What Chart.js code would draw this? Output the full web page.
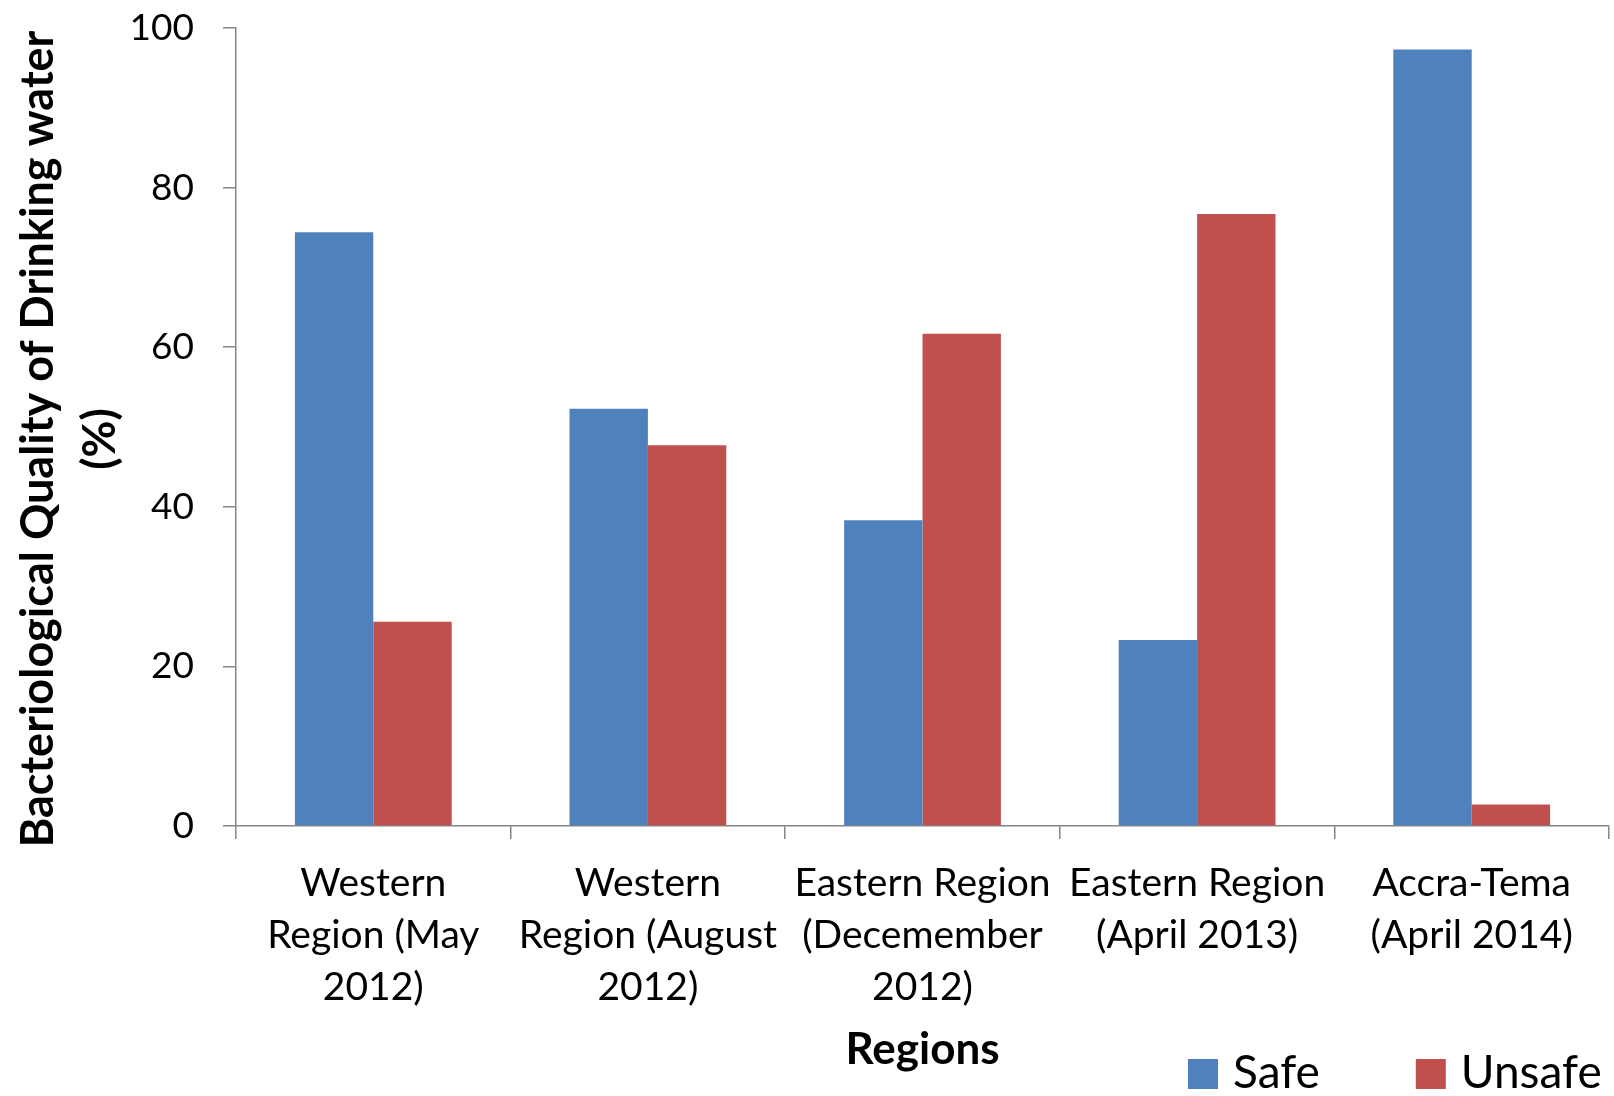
<!DOCTYPE html>
<html><head><meta charset="utf-8">
<script src="https://cdn.jsdelivr.net/npm/chart.js@4"></script>
<style>html,body{margin:0;padding:0;background:#fff}canvas{display:block}</style>
</head><body>
<canvas id="c" width="1614" height="1096"></canvas>
<script>
const categories = [
  ["Western", "Region (May", "2012)"],
  ["Western", "Region (August", "2012)"],
  ["Eastern Region", "(Decemember", "2012)"],
  ["Eastern Region", "(April 2013)"],
  ["Accra-Tema", "(April 2014)"]
];
const safeValues = [74.4, 52.3, 38.3, 23.3, 97.3];
const unsafeValues = [25.6, 47.7, 61.7, 76.7, 2.7];
const yTicks = [0, 20, 40, 60, 80, 100];
const seriesNames = ["Safe", "Unsafe"];
const seriesColors = ["#4F81BD", "#C0504D"];
const xTitle = "Regions";
const yTitle = ["Bacteriological Quality of Drinking water", "(%)"];

const FONT = "Lato";
const AXIS = "#868686";

const legendPlugin = {
  id: "customLegend",
  afterDraw(chart) {
    const ctx = chart.ctx;
    ctx.save();
    ctx.font = "46px " + FONT;
    ctx.textBaseline = "alphabetic";
    ctx.textAlign = "left";
    let x = 1188;
    const boxTop = 1059, box = 30, baseline = 1088;
    chart.data.datasets.forEach((ds) => {
      ctx.fillStyle = ds.backgroundColor;
      ctx.fillRect(x, boxTop, box, box);
      ctx.fillStyle = "#000";
      ctx.fillText(ds.label, x + box + 15, baseline);
      x += box + 15 + ctx.measureText(ds.label).width + 96;
    });
    ctx.restore();
  }
};

const yTitlePlugin = {
  id: "yTitle",
  afterDraw(chart) {
    const ctx = chart.ctx;
    const area = chart.chartArea;
    const yc = (area.top + area.bottom) / 2 + 12;
    ctx.save();
    ctx.font = "bold 45px " + FONT;
    ctx.fillStyle = "#000";
    ctx.textAlign = "center";
    ctx.textBaseline = "middle";
    yTitle.forEach((line, i) => {
      ctx.save();
      ctx.translate(38 + i * 62, yc);
      ctx.rotate(-Math.PI / 2);
      ctx.fillText(line, 0, 0);
      ctx.restore();
    });
    ctx.restore();
  }
};

new Chart(document.getElementById("c"), {
  type: "bar",
  data: {
    labels: categories,
    datasets: [
      { label: seriesNames[0], data: safeValues, backgroundColor: seriesColors[0], borderWidth: 0 },
      { label: seriesNames[1], data: unsafeValues, backgroundColor: seriesColors[1], borderWidth: 0 }
    ]
  },
  options: {
    responsive: false,
    animation: false,
    layout: { padding: { left: 0, right: 5, top: 28, bottom: 0 } },
    datasets: { bar: { categoryPercentage: 0.571, barPercentage: 1.0 } },
    plugins: { legend: { display: false }, tooltip: { enabled: false }, title: { display: false } },
    scales: {
      x: {
        grid: { drawOnChartArea: false, drawTicks: true, tickLength: 13, color: AXIS, lineWidth: 1.5, offset: true },
        border: { color: AXIS, width: 1.5 },
        ticks: { color: "#000", font: { family: FONT, size: 39, lineHeight: "52px" }, padding: 18, maxRotation: 0, minRotation: 0, autoSkip: false },
        title: { display: true, text: xTitle, color: "#000", font: { family: FONT, size: 44, weight: "bold", lineHeight: "52px" }, padding: { top: 0, bottom: 20 } },
        afterFit(scale) { scale.height = 270; }
      },
      y: {
        min: 0, max: 100,
        afterBuildTicks(scale) { scale.ticks = yTicks.map(v => ({ value: v })); },
        grid: { drawOnChartArea: false, drawTicks: true, tickLength: 13, color: AXIS, lineWidth: 1.5 },
        border: { color: AXIS, width: 1.5 },
        ticks: { color: "#000", font: { family: FONT, size: 37 }, padding: 29 },
        title: { display: false },
        afterFit(scale) { scale.width = 236; scale.paddingTop = 0; scale.paddingBottom = 0; }
      }
    }
  },
  plugins: [legendPlugin, yTitlePlugin]
});
</script>
</body></html>
